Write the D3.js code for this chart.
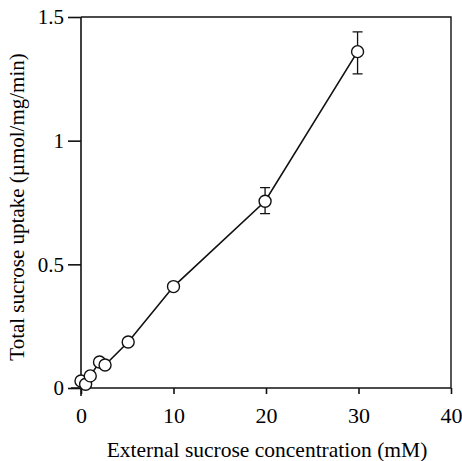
<!DOCTYPE html>
<html>
<head>
<meta charset="utf-8">
<script src="https://cdn.jsdelivr.net/npm/d3@7"></script>
<style>
	body { margin: 0; background: #fff; }
	text { font-family: "Liberation Serif", "Times New Roman", serif; fill: #000; }
	.axis path, .axis line { stroke: #111; stroke-width: 1.6; }
</style>
</head>
<body>
<svg id="graph"></svg>
<script>
// sucrose concentration (mM) and uptake (umol/mg/min)
var conc   = [ 0, 0.5, 1, 2, 2.6, 5.1, 10, 19.9, 29.9 ];
var uptake = [ 0.028, 0.015, 0.049, 0.105, 0.093, 0.186, 0.41, 0.755, 1.36 ];
var err_hi = [ null, null, null, null, null, null, null, 0.81, 1.44 ];
var err_lo = [ null, null, null, null, null, null, null, 0.705, 1.27 ];

var x_ticks = [ 0, 10, 20, 30, 40 ];
var y_ticks = [ 0, 0.5, 1, 1.5 ];

var W = 462, H = 461;
var margin = { top : 17, right : 10, bottom : 73, left : 81 };
var width  = 451 - margin.left;
var height = 388 - margin.top;

var svg = d3.select( "#graph" )
		.attr( "width", W )
		.attr( "height", H )
	.append( "g" )
		.attr( "transform", "translate(" + margin.left + "," + margin.top + ")" );

var x = d3.scaleLinear().domain([ 0, 40 ]).range([ 0, width ]);
var y = d3.scaleLinear().domain([ 0, 1.5 ]).range([ height, 0 ]);

var data = conc.map( function( c, i ){
	return { x : c, y : uptake[i], hi : err_hi[i], lo : err_lo[i] };
});

// frame top and right
svg.append( "path" )
	.attr( "d", "M0,0H" + width + "V" + height )
	.attr( "fill", "none" )
	.attr( "stroke", "#111" )
	.attr( "stroke-width", 1.4 );

// X axis, ticks pointing down
var x_axis = d3.axisBottom( x ).tickValues( x_ticks ).tickSize( 6 ).tickSizeOuter( 0 ).tickPadding( 13 ).tickFormat( d3.format( "d" ) );
svg.append( "g" )
	.attr( "class", "x axis" )
	.attr( "transform", "translate(0," + height + ")" )
	.call( x_axis )
	.call( g => g.select( ".domain" ).attr( "d", "M-10,0H" + width ) )
	.selectAll( "text" ).style( "font-size", "22px" ).attr( "fill", "#000" );

// Y axis
var y_axis = d3.axisLeft( y ).tickValues( y_ticks ).tickSize( 13 ).tickSizeOuter( 0 ).tickPadding( 4 ).tickFormat( d => d );
svg.append( "g" )
	.attr( "class", "y axis" )
	.call( y_axis )
	.call( g => g.select( ".domain" ).attr( "d", "M0,0V" + ( height + 8 ) ) )
	.selectAll( "text" ).style( "font-size", "21px" ).attr( "fill", "#000" );

// Axis titles
svg.append( "text" )
	.attr( "x", 267 - margin.left )
	.attr( "y", 457 - margin.top )
	.attr( "text-anchor", "middle" )
	.style( "font-size", "21.5px" )
	.text( "External sucrose concentration (mM)" );

svg.append( "text" )
	.attr( "transform", "translate(" + ( 17 - margin.left ) + "," + ( 207 - margin.top ) + ") rotate(-90)" )
	.attr( "dy", "0.35em" )
	.attr( "text-anchor", "middle" )
	.style( "font-size", "21px" )
	.text( "Total sucrose uptake (µmol/mg/min)" );

// Error bars
var eb = data.filter( d => d.hi !== null );
var err = svg.append( "g" ).attr( "stroke", "#111" ).attr( "stroke-width", 1.3 ).attr( "fill", "none" );
err.selectAll( "path.hi" )
	.data( eb )
	.enter()
	.append( "path" )
		.attr( "d", d => "M" + ( x( d.x ) - 5 ) + "," + y( d.hi ) + "H" + ( x( d.x ) + 5 ) + "M" + x( d.x ) + "," + y( d.hi ) + "V" + y( d.y ) );
err.selectAll( "path.lo" )
	.data( eb )
	.enter()
	.append( "path" )
		.attr( "d", d => "M" + ( x( d.x ) - 5 ) + "," + y( d.lo ) + "H" + ( x( d.x ) + 5 ) + "M" + x( d.x ) + "," + y( d.lo ) + "V" + y( d.y ) );

// Line
var line = d3.line()
	.x( d => x( d.x ) )
	.y( d => y( d.y ) );

svg.append( "path" )
	.attr( "d", line( data ) )
	.attr( "fill", "none" )
	.attr( "stroke", "#111" )
	.attr( "stroke-width", 1.6 );

// Points
svg.append( "g" )
	.selectAll( "circle" )
	.data( data )
	.enter()
	.append( "circle" )
		.attr( "cx", d => x( d.x ) )
		.attr( "cy", d => y( d.y ) )
		.attr( "r", 6 )
		.attr( "fill", "#fff" )
		.attr( "stroke", "#111" )
		.attr( "stroke-width", 1.4 );
</script>
</body>
</html>
